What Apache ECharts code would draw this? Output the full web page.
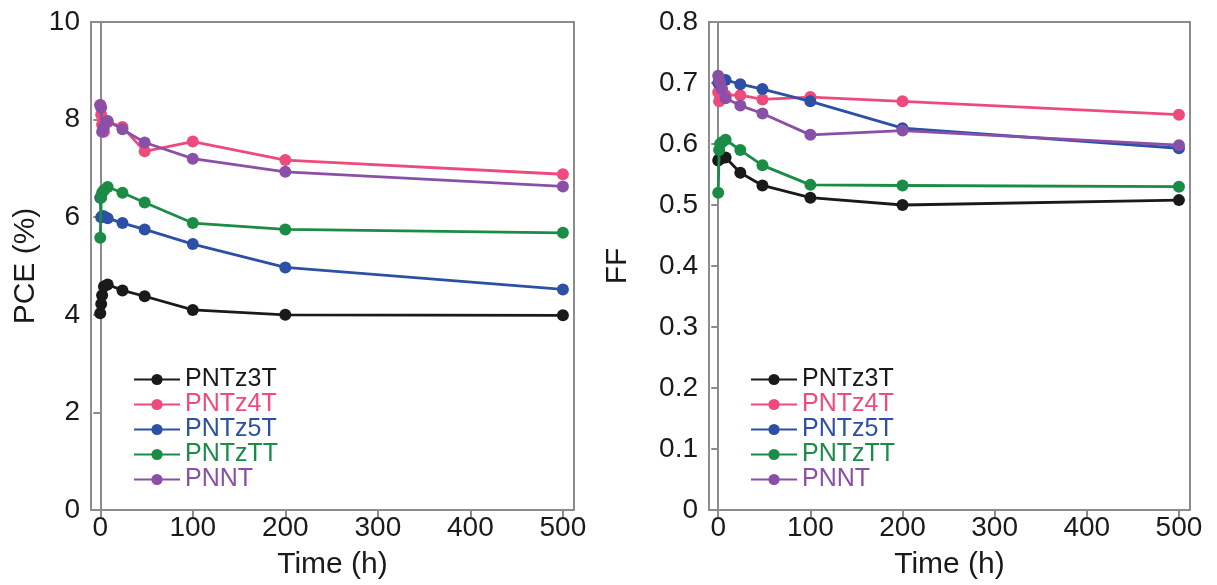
<!DOCTYPE html>
<html>
<head>
<meta charset="utf-8">
<script src="https://cdn.jsdelivr.net/npm/echarts@6/dist/echarts.min.js"></script>
<style>
html,body{margin:0;padding:0;background:#fff;}
#c{width:1217px;height:585px;}
</style>
</head>
<body>
<div id="c"></div>
<script>
// Time points (h)
var hours = [0, 1, 2, 4, 8, 24, 48, 100, 200, 500];
var seriesNames = ['PNTz3T', 'PNTz4T', 'PNTz5T', 'PNTzTT', 'PNNT'];
var seriesColors = ['#1a1a1a', '#ee4a7b', '#2c50a6', '#1b8c46', '#8a4fa6'];
var xTicks = [0, 100, 200, 300, 400, 500];

// PCE (%)
var pce_PNTz3T = [4.03, 4.22, 4.40, 4.58, 4.62, 4.50, 4.38, 4.10, 4.00, 3.99];
var pce_PNTz4T = [8.30, 8.10, 7.90, 7.75, 7.95, 7.85, 7.35, 7.55, 7.17, 6.88];
var pce_PNTz5T = [6.40, 6.00, 6.02, 6.02, 5.98, 5.88, 5.75, 5.45, 4.97, 4.52];
var pce_PNTzTT = [5.58, 6.40, 6.50, 6.55, 6.62, 6.50, 6.30, 5.88, 5.75, 5.68];
var pce_PNNT   = [8.30, 8.25, 7.75, 7.85, 7.97, 7.80, 7.53, 7.20, 6.93, 6.63];

// FF
var ff_PNTz3T = [0.573, 0.575, 0.576, 0.577, 0.578, 0.553, 0.532, 0.512, 0.500, 0.508];
var ff_PNTz4T = [0.685, 0.670, 0.680, 0.690, 0.680, 0.680, 0.673, 0.677, 0.670, 0.648];
var ff_PNTz5T = [0.700, 0.705, 0.705, 0.705, 0.705, 0.698, 0.690, 0.670, 0.626, 0.593];
var ff_PNTzTT = [0.520, 0.590, 0.600, 0.603, 0.607, 0.590, 0.565, 0.533, 0.532, 0.530];
var ff_PNNT   = [0.712, 0.705, 0.700, 0.690, 0.675, 0.663, 0.650, 0.615, 0.622, 0.598];

var pceData = [pce_PNTz3T, pce_PNTz4T, pce_PNTz5T, pce_PNTzTT, pce_PNNT];
var ffData = [ff_PNTz3T, ff_PNTz4T, ff_PNTz5T, ff_PNTzTT, ff_PNNT];

var FONT = '"Liberation Sans", Arial, Helvetica, sans-serif';
var AXIS_GRAY = '#8c8c8c';
var TEXT = '#1a1a1a';

function pairs(vals) {
  return hours.map(function (h, i) { return [h, vals[i]]; });
}

function xAxisFor(idx) {
  return {
    type: 'value', gridIndex: idx, min: -10, max: 512,
    name: 'Time (h)', nameLocation: 'middle', nameGap: 40,
    nameTextStyle: { fontFamily: FONT, fontSize: 30, color: TEXT },
    axisLine: { show: true, lineStyle: { color: AXIS_GRAY, width: 2 } },
    axisTick: { show: true, length: 7, inside: false, customValues: xTicks, lineStyle: { color: AXIS_GRAY, width: 2 } },
    axisLabel: { customValues: xTicks, fontFamily: FONT, fontSize: 28, color: TEXT, margin: 4 },
    splitLine: { show: false }
  };
}

function yAxisFor(idx, max, interval, name, gap) {
  return {
    type: 'value', gridIndex: idx, min: 0, max: max, interval: interval,
    name: name, nameLocation: 'middle', nameGap: gap, nameRotate: 90,
    nameTextStyle: { fontFamily: FONT, fontSize: 30, color: TEXT },
    axisLine: { show: true, lineStyle: { color: AXIS_GRAY, width: 2 } },
    axisTick: { show: true, length: 7, inside: false, lineStyle: { color: AXIS_GRAY, width: 2 } },
    axisLabel: { fontFamily: FONT, fontSize: 28, color: TEXT, margin: 11 },
    splitLine: { show: false }
  };
}

var series = [];
[pceData, ffData].forEach(function (dataSet, gi) {
  dataSet.forEach(function (vals, si) {
    series.push({
      type: 'line',
      name: seriesNames[si],
      xAxisIndex: gi, yAxisIndex: gi,
      data: pairs(vals),
      symbol: 'circle', symbolSize: 12,
      itemStyle: { color: seriesColors[si] },
      lineStyle: { color: seriesColors[si], width: 2.8 },
      z: 2 + si
    });
  });
});

function legendFor(left) {
  return {
    orient: 'vertical', left: left, top: 362,
    itemWidth: 46, itemHeight: 14, itemGap: 0,
    textStyle: { fontFamily: FONT, fontSize: 25, lineHeight: 25 },
    data: seriesNames.map(function (n, i) {
      return { name: n, textStyle: { color: seriesColors[i] } };
    }),
    selectedMode: false
  };
}

var chart = echarts.init(document.getElementById('c'), null, { renderer: 'canvas' });
chart.setOption({
  animation: false,
  backgroundColor: '#fff',
  grid: [
    { left: 91, right: 643, top: 22, bottom: 75, show: true, borderColor: AXIS_GRAY, borderWidth: 2, backgroundColor: 'transparent' },
    { left: 709, right: 27, top: 22, bottom: 75, show: true, borderColor: AXIS_GRAY, borderWidth: 2, backgroundColor: 'transparent' }
  ],
  xAxis: [xAxisFor(0), xAxisFor(1)],
  yAxis: [yAxisFor(0, 10, 2, 'PCE (%)', 50), yAxisFor(1, 0.8, 0.1, 'FF', 76)],
  legend: [legendFor(128), legendFor(745)],
  series: series
});
</script>
</body>
</html>
